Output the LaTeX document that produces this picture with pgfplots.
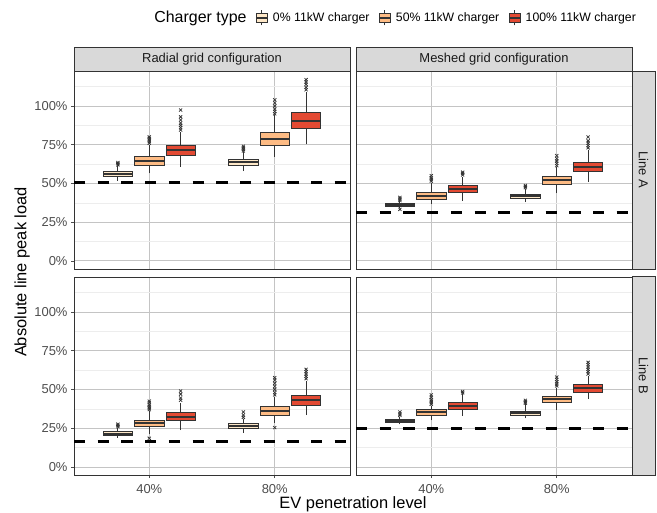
\documentclass[border=0pt]{standalone}
\usepackage{pgfplots}
\pgfplotsset{compat=1.18}
\usepackage{fontspec}
\setmainfont{Liberation Sans}
\definecolor{c0}{HTML}{FEE8C8}
\definecolor{c1}{HTML}{FDBB84}
\definecolor{c2}{HTML}{E34A33}
\definecolor{boxdraw}{HTML}{333333}
\definecolor{gridmajor}{HTML}{C4C4C4}
\definecolor{gridminor}{HTML}{EDEDED}
\definecolor{framecol}{HTML}{333333}
\definecolor{tickcol}{HTML}{4D4D4D}
\definecolor{stripfill}{HTML}{D9D9D9}
\definecolor{striptext}{HTML}{1A1A1A}

\pgfplotsset{
 panel/.style={width=276bp, height=198bp, scale only axis, anchor=south west,
  xmin=0.4, xmax=2.6, ymin=-5.2, ymax=122.6,
  xtick={1,2}, ytick={0,25,50,75,100}, minor ytick={12.5,37.5,62.5,87.5,112.5},
  grid=both, major grid style={draw=gridmajor, line width=0.9bp},
  minor grid style={draw=gridminor, line width=0.6bp},
  axis line style={draw=framecol, line width=0.9bp},
  tick align=outside, major tick length=3bp, minor tick length=0bp,
  tick style={draw=tickcol, line width=0.8bp},
  xtick pos=bottom, ytick pos=left,
  xticklabels={40\%,80\%}, yticklabels={0\%,25\%,50\%,75\%,100\%},
  ticklabel style={font=\fontsize{13}{13}\selectfont, text=tickcol},
  xticklabel style={yshift=-3bp},
 },
 notx/.style={xticklabels={}, xtick style={draw=none}},
 noty/.style={yticklabels={}, ytick style={draw=none}},
 refline/.style={black, line width=3bp, dash pattern=on 11.3bp off 12.4bp},
}
% #1 position, #2 lower whisker, #3 Q1, #4 median, #5 Q3, #6 upper whisker, #7 fill, #8 outliers
\newcommand{\DrawOneBox}[8]{%
 \pgfmathsetmacro\xl{#1-0.117}\pgfmathsetmacro\xr{#1+0.117}%
 \addplot[draw=boxdraw, line width=0.9bp] coordinates {(#1,#2) (#1,#3)};
 \addplot[draw=boxdraw, line width=0.9bp] coordinates {(#1,#5) (#1,#6)};
 \addplot[draw=boxdraw, fill=#7, line width=0.9bp] coordinates {(\xl,#3) (\xr,#3) (\xr,#5) (\xl,#5)} -- cycle;
 \addplot[draw=boxdraw, line width=2bp] coordinates {(\xl,#4) (\xr,#4)};
 \addplot[only marks, mark=x, mark size=2.2bp, mark options={draw=boxdraw, line width=0.75bp}]
   table[row sep=\\, x expr=#1, y index=0] {y\\ #8};
}

\begin{document}
\begin{tikzpicture}
\useasboundingbox (0,0) rectangle (657bp,-513bp);

% ---------- top left: Radial, Line A
\begin{axis}[panel, notx, at={(74bp,-269bp)},
  legend style={at={(1.158,1.268)}, anchor=center, draw=none, fill=none,
    legend columns=4, font=\fontsize{12.3}{12.3}\selectfont,
    /tikz/every odd column/.append style={column sep=3bp},
    /tikz/every even column/.append style={column sep=7bp}},
  legend cell align=left,
  legend image code/.code={
    \draw[draw=boxdraw, line width=0.8bp] (5.5bp,-7.5bp) -- (5.5bp,7.5bp);
    \draw[#1, draw=boxdraw, line width=0.8bp] (0bp,-4.5bp) rectangle (11bp,4.5bp);
    \draw[draw=boxdraw, line width=1.5bp] (0bp,0bp) -- (11bp,0bp);
  }]
\addlegendimage{empty legend}
\addlegendentry{\fontsize{16}{16}\selectfont Charger type}
\addlegendimage{fill=c0}
\addlegendentry{0\% 11kW charger}
\addlegendimage{fill=c1}
\addlegendentry{50\% 11kW charger}
\addlegendimage{fill=c2}
\addlegendentry{100\% 11kW charger}
\addplot[refline] coordinates {(0.4,50.5) (2.6,50.5)};
\DrawOneBox{0.75}{51.8}{54.8}{56.3}{57.9}{61.5}{c0}{62\\ 62.8\\ 63.5\\}
\DrawOneBox{1}{56.6}{61.5}{64.5}{67.5}{75}{c1}{76\\ 77\\ 78\\ 79\\ 80\\}
\DrawOneBox{1.25}{60.8}{68.4}{71.6}{74.8}{83.4}{c2}{84.5\\ 86\\ 87.5\\ 89\\ 91\\ 93\\ 97.4\\}
\DrawOneBox{1.75}{58}{61.9}{63.9}{65.8}{70}{c0}{71\\ 72\\ 73\\ 74\\}
\DrawOneBox{2}{67.3}{74.6}{78.7}{82.8}{94}{c1}{95\\ 96.5\\ 98\\ 100\\ 102\\ 104\\}
\DrawOneBox{2.25}{75.3}{85.6}{90.5}{95.7}{109}{c2}{110.5\\ 112\\ 114\\ 115.5\\ 117\\}
\end{axis}

% ---------- top right: Meshed, Line A
\begin{axis}[panel, notx, noty, at={(356bp,-269bp)}]
\addplot[refline] coordinates {(0.4,31.2) (2.6,31.2)};
\DrawOneBox{0.75}{34}{35.0}{36.0}{37.2}{38.5}{c0}{33.3\\ 39\\ 40\\ 41\\}
\DrawOneBox{1}{36.6}{40.0}{42.2}{44.3}{50.5}{c1}{51.5\\ 52.5\\ 53.5\\ 55\\}
\DrawOneBox{1.25}{38.9}{44.3}{46.7}{48.8}{54.5}{c2}{55.5\\ 56.5\\ 57.3\\}
\DrawOneBox{1.75}{37.9}{40.4}{41.8}{43.2}{46.5}{c0}{47.3\\ 48\\ 48.7\\}
\DrawOneBox{2}{43.7}{49.5}{52.0}{54.4}{60.4}{c1}{61.5\\ 63\\ 64.5\\ 66\\ 68\\}
\DrawOneBox{2.25}{51.2}{57.6}{60.6}{63.7}{71.6}{c2}{73\\ 74.5\\ 76\\ 77.5\\ 80\\}
\end{axis}

% ---------- bottom left: Radial, Line B
\begin{axis}[panel, at={(74bp,-475bp)}]
\addplot[refline] coordinates {(0.4,16.6) (2.6,16.6)};
\DrawOneBox{0.75}{18.9}{20.4}{21.5}{22.6}{25.4}{c0}{26\\ 26.8\\ 27.6\\}
\DrawOneBox{1}{21.1}{26.0}{28.2}{30.1}{36.1}{c1}{18.5\\ 37\\ 38\\ 39\\ 40\\ 41.5\\ 42.5\\}
\DrawOneBox{1.25}{23.7}{29.9}{32.5}{35.0}{41.5}{c2}{43\\ 44.5\\ 47\\ 49\\}
\DrawOneBox{1.75}{22.1}{24.7}{26.2}{27.9}{30.8}{c0}{32\\ 33.5\\ 35.5\\}
\DrawOneBox{2}{28.6}{33.5}{36.3}{39.1}{45.4}{c1}{25.4\\ 46.5\\ 48\\ 50\\ 52\\ 54\\ 56\\ 57.6\\}
\DrawOneBox{2.25}{33.5}{39.8}{43.0}{46.4}{55.5}{c2}{57\\ 58.5\\ 60\\ 61.5\\ 63\\}
\end{axis}

% ---------- bottom right: Meshed, Line B
\begin{axis}[panel, noty, at={(356bp,-475bp)}]
\addplot[refline] coordinates {(0.4,24.7) (2.6,24.7)};
\DrawOneBox{0.75}{27.5}{28.6}{29.7}{30.8}{32.4}{c0}{33.3\\ 34.2\\ 35.5\\}
\DrawOneBox{1}{30.1}{33.5}{35.2}{36.8}{39.4}{c1}{40.5\\ 41.5\\ 42.5\\ 43.5\\ 45\\ 46.5\\}
\DrawOneBox{1.25}{32.9}{37.2}{39.4}{41.5}{46.9}{c2}{47.8\\ 48.7\\}
\DrawOneBox{1.75}{31.4}{33.3}{34.7}{36.1}{40.4}{c0}{41.2\\ 42\\ 43\\}
\DrawOneBox{2}{36.6}{41.5}{43.7}{45.8}{51.2}{c1}{52.3\\ 53.5\\ 55\\ 56.5\\ 58\\}
\DrawOneBox{2.25}{43.7}{47.9}{50.8}{53.4}{58.7}{c2}{60\\ 61.5\\ 63\\ 64.5\\ 66\\ 67.5\\}
\end{axis}

% ---------- strips
\draw[fill=stripfill, draw=framecol, line width=0.9bp] (74bp,-47bp) rectangle (350bp,-71bp);
\draw[fill=stripfill, draw=framecol, line width=0.9bp] (356bp,-47bp) rectangle (632bp,-71bp);
\draw[fill=stripfill, draw=framecol, line width=0.9bp] (632bp,-71bp) rectangle (655bp,-269bp);
\draw[fill=stripfill, draw=framecol, line width=0.9bp] (632bp,-276bp) rectangle (655bp,-475bp);
\node[font=\fontsize{13}{13}\selectfont, text=striptext] at (212bp,-59bp) {Radial grid configuration};
\node[font=\fontsize{13}{13}\selectfont, text=striptext] at (494bp,-59bp) {Meshed grid configuration};
\node[font=\fontsize{13}{13}\selectfont, text=striptext, rotate=-90] at (643.5bp,-170bp) {Line A};
\node[font=\fontsize{13}{13}\selectfont, text=striptext, rotate=-90] at (643.5bp,-375.5bp) {Line B};

% ---------- axis titles
\node[font=\fontsize{16.5}{16.5}\selectfont, rotate=90] at (22bp,-272bp) {Absolute line peak load};
\node[font=\fontsize{16.5}{16.5}\selectfont] at (353bp,-504bp) {EV penetration level};
\end{tikzpicture}
\end{document}
